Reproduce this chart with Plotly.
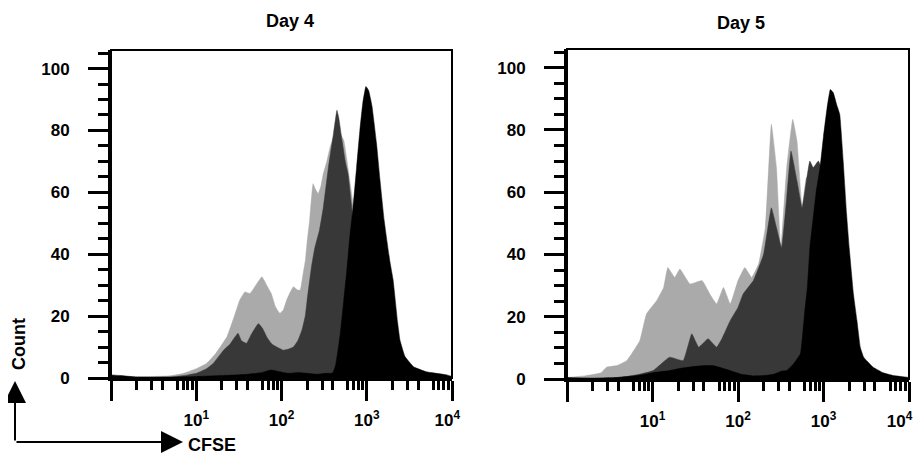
import plotly.graph_objects as go

# ---------------- data (CFSE intensity vs count) ----------------
# Day 4
d4_light_x = [1, 3.2, 5, 7.1, 10, 13.2, 17, 22.9, 28, 32.4, 37.2, 42.7, 50, 58.9, 67, 75.9, 85, 95.5,
              105, 115, 128, 138, 155, 166, 180, 190.5, 200, 213.8, 234.4, 250, 269.2, 290, 309, 340,
              371.5, 410, 460, 537, 631, 691.8, 800, 1000, 1300, 1600]
d4_light_y = [0.5, 0.5, 0.7, 1.5, 3, 4.7, 8, 13.3, 20, 25.2, 27.8, 27.3, 30, 32.7, 30, 27.3, 23, 20.9,
              22, 25.2, 28, 29.5, 28.4, 28.4, 34, 38, 44, 51, 62.8, 61, 59.6, 62, 66, 70,
              74.6, 78, 80, 76.8, 63.9, 56, 40, 15, 3, 0]

d4_dark_x = [1, 5, 8, 10, 13.2, 15.8, 20.9, 25, 28, 30.9, 34, 38.9, 44, 50, 53.7, 60, 68, 77, 87.1,
             104.7, 120, 138, 155, 173.8, 190, 199.5, 225, 245.5, 280, 309, 354.8, 407.4, 446.7, 470,
             512.9, 560, 602.6, 660.7, 720, 800, 1000, 1300]
d4_dark_y = [0, 0.3, 1, 1.5, 3, 4.7, 9, 11, 13, 14.5, 12, 11.2, 14, 16.5, 17.6, 16, 13, 11, 10.1,
             9, 9.3, 10, 12, 15.5, 20, 25, 36, 42, 48, 55, 68, 79, 86.5, 84,
             76.8, 70, 66, 56.3, 45, 30, 8, 0]

d4_black_x = [1, 1.3, 2, 5, 10, 20, 40, 60, 74, 90, 120, 160, 200, 260, 330, 398, 430, 460, 490, 537,
              580, 630, 690, 760, 830, 900, 977, 1050, 1150, 1300, 1430, 1600, 1860, 2040, 2300,
              2450, 2800, 3550, 5000, 8710, 10000]
d4_black_y = [1.0, 0.8, 0.3, 0.3, 0.5, 0.8, 1.2, 1.8, 2.6, 2.2, 1.5, 1.8, 1.5, 1.2, 1.5, 1.6, 4, 9, 14.5, 25,
              34, 45, 55, 68, 80, 89, 94.2, 93, 88, 76, 64, 51, 38, 31.6, 18,
              12.3, 7, 3.6, 2, 1, 0.5]

# Day 5
d5_light_x = [1, 1.6, 2.5, 2.9, 3.8, 5, 7.1, 8.5, 11.2, 13.5, 15.1, 18.2, 20.9, 27.5, 38, 46.8, 56.2,
              67.6, 81.3, 100, 120.2, 144.5, 173.8, 208.9, 245.5, 281.8, 316.2, 371.5, 436.5, 489.8,
              562.3, 631, 720, 850, 1000, 1200, 1500]
d5_light_y = [0.5, 1, 2, 3.8, 4.3, 5.9, 12.3, 20.9, 25.2, 29.4, 35.8, 32.6, 35.3, 30.5, 31.6, 27.3, 24.1,
              29.4, 24.1, 31.6, 35.8, 32.6, 36.9, 48.7, 81.8, 67.9, 41.7, 67.9, 83.4, 76.4,
              55, 64.7, 62, 55, 35, 10, 0]

d5_dark_x = [1, 3.2, 5, 7, 10.2, 15.8, 22.9, 28.8, 34.7, 44.7, 56.2, 65, 81.3, 100, 114.8, 151.4,
             199.5, 245.5, 281.8, 323.6, 371.5, 416.9, 489.8, 562.3, 631, 691.8, 758.6, 871, 955,
             1100, 1300]
d5_dark_y = [0, 0.3, 0.8, 1.5, 2.7, 7, 5.9, 14.5, 10.2, 12.9, 10.2, 13, 18.8, 23, 27.3, 31.6,
             40.1, 55, 48.7, 42.2, 58.3, 73.2, 63.6, 55, 63.6, 70, 67.9, 70, 67.4,
             40, 0]

d5_black_x = [1, 2, 4, 6.6, 10, 15.8, 22, 30.2, 40, 51.3, 65, 85, 110, 150, 199.5, 260, 320, 371.5,
              450, 537, 600, 650, 692, 760, 820, 912, 1000, 1100, 1202, 1300, 1430, 1549, 1700,
              1862, 2000, 2239, 2455, 2692, 2951, 3802, 5000, 6607, 10000]
d5_black_y = [0.5, 0.3, 0.5, 1.1, 2, 2.7, 3.5, 4, 4.3, 4.3, 3.5, 2.5, 1.5, 1, 1.1, 1.5, 2.5, 2.7,
              5, 8.1, 20.9, 30, 42, 52, 60, 68, 78, 87, 93, 92, 88, 85, 70,
              53, 42, 27.3, 19, 10.2, 7, 3.8, 2, 1.1, 0.5]

panel_titles = ["Day 4", "Day 5"]
x_tick_vals = [1, 10, 100, 1000, 10000]
x_tick_text = ["", "10<sup>1</sup>", "10<sup>2</sup>", "10<sup>3</sup>", "10<sup>4</sup>"]
y_tick_vals = [0, 20, 40, 60, 80, 100]
x_label = "CFSE"
y_label = "Count"

# ---------------- styling ----------------
LIGHT = "#aaaaaa"
DARK = "#383838"
BLACK = "#000000"
FONT = "Liberation Sans, Arial, sans-serif"
NB = "\u00a0"

# the page body adds an 8px margin around the figure
OFF = 8
W, H = 921 - OFF, 462 - OFF

def PX(p):
    return (p - OFF) / W

def PY(p):
    return 1 - (p - OFF) / H

fig = go.Figure()

panels = [
    ((d4_light_x, d4_light_y), (d4_dark_x, d4_dark_y), (d4_black_x, d4_black_y)),
    ((d5_light_x, d5_light_y), (d5_dark_x, d5_dark_y), (d5_black_x, d5_black_y)),
]
for i, series in enumerate(panels):
    xa = "x" if i == 0 else "x2"
    ya = "y" if i == 0 else "y2"
    for (sx, sy), col in zip(series, [LIGHT, DARK, BLACK]):
        fig.add_trace(go.Scatter(x=sx, y=sy, xaxis=xa, yaxis=ya, mode="lines",
                                 line=dict(color=col, width=0.5, shape="spline", smoothing=0.3),
                                 fill="tozeroy", fillcolor=col, hoverinfo="skip"))

minor_x = [m * 10 ** d for d in range(4) for m in (2, 3, 4, 6, 7, 8, 9)]
half_x = [5 * 10 ** d for d in range(4)]

def xaxis_style(domain, anchor, pad):
    texts = list(x_tick_text)
    texts[-1] = texts[-1] + NB * pad
    return dict(type="log", domain=domain, range=[0, 4], anchor=anchor, automargin=False,
                showline=True, linecolor="black",
                linewidth=3, ticks="outside", ticklen=20, tickwidth=3, tickcolor="black",
                tickvals=x_tick_vals, ticktext=texts, showgrid=False, zeroline=False,
                tickfont=dict(family=FONT, size=17, color="black", weight="bold"),
                ticklabelstandoff=5, ticklabeloverflow="allow",
                minor=dict(tickvals=minor_x, ticks="outside", ticklen=9, tickwidth=2.5,
                           tickcolor="black", showgrid=False))

def xaxis_half(domain, anchor, over):
    # extra tick layer: the longer ticks at 5 x 10^n
    return dict(type="log", domain=domain, range=[0, 4], anchor=anchor, overlaying=over,
                automargin=False, showline=False, ticks="outside", ticklen=15, tickwidth=2.5,
                tickcolor="black", tickvals=half_x, showticklabels=False, showgrid=False,
                zeroline=False)

def yaxis_style(domain, anchor):
    return dict(domain=domain, range=[0, 106], anchor=anchor, automargin=False,
                showline=True, linecolor="black", linewidth=3,
                ticks="outside", ticklen=20, tickwidth=3, tickcolor="black",
                tickvals=y_tick_vals, showgrid=False, zeroline=False,
                tickfont=dict(family=FONT, size=17, color="black", weight="bold"),
                ticklabelstandoff=15,
                minor=dict(dtick=5, ticks="outside", ticklen=10, tickwidth=2.5,
                           tickcolor="black", showgrid=False))

dom1 = [PX(111), PX(452)]
dom2 = [PX(567), PX(909)]
fig.update_layout(
    template="none",
    width=W, height=H, margin=dict(l=0, r=0, t=0, b=0, autoexpand=False),
    paper_bgcolor="white", plot_bgcolor="white", showlegend=False,
    xaxis=xaxis_style(dom1, "y", 2),
    yaxis=yaxis_style([PY(378), PY(50)], "x"),
    xaxis2=xaxis_style(dom2, "y2", 4),
    yaxis2=yaxis_style([PY(379), PY(49)], "x2"),
    xaxis3=xaxis_half(dom1, "y", "x"),
    xaxis4=xaxis_half(dom2, "y2", "x2"),
)

# frame (top / right)
for xr, yr in [("x domain", "y domain"), ("x2 domain", "y2 domain")]:
    fig.add_shape(type="rect", xref=xr, yref=yr, x0=0, x1=1, y0=0, y1=1,
                  line=dict(color="black", width=2), layer="above")

# panel titles
for t, cx, cy in [(panel_titles[0], 290, 21), (panel_titles[1], 741, 23)]:
    fig.add_annotation(text=t, xref="paper", yref="paper", x=PX(cx), y=PY(cy),
                       xanchor="center", yanchor="middle", showarrow=False,
                       font=dict(family=FONT, size=18, color="black", weight="bold"))

# axis arrows
fig.add_annotation(text="", xref="paper", yref="paper", x=PX(15), y=PY(381),
                   ax=0, ay=61, axref="pixel", ayref="pixel", showarrow=True,
                   arrowhead=2, arrowsize=2.2, arrowwidth=2, arrowcolor="black")
fig.add_annotation(text="", xref="paper", yref="paper", x=PX(183), y=PY(442),
                   ax=-168, ay=0, axref="pixel", ayref="pixel", showarrow=True,
                   arrowhead=2, arrowsize=2.2, arrowwidth=2, arrowcolor="black")
fig.add_annotation(text=x_label, xref="paper", yref="paper", x=PX(186), y=PY(445),
                   xanchor="left", yanchor="middle", showarrow=False,
                   font=dict(family=FONT, size=18, color="black", weight="bold"))
fig.add_annotation(text=y_label, xref="paper", yref="paper", x=PX(19), y=PY(344),
                   xanchor="center", yanchor="middle", textangle=-90, showarrow=False,
                   font=dict(family=FONT, size=18, color="black", weight="bold"))

fig.write_html("out.html")
